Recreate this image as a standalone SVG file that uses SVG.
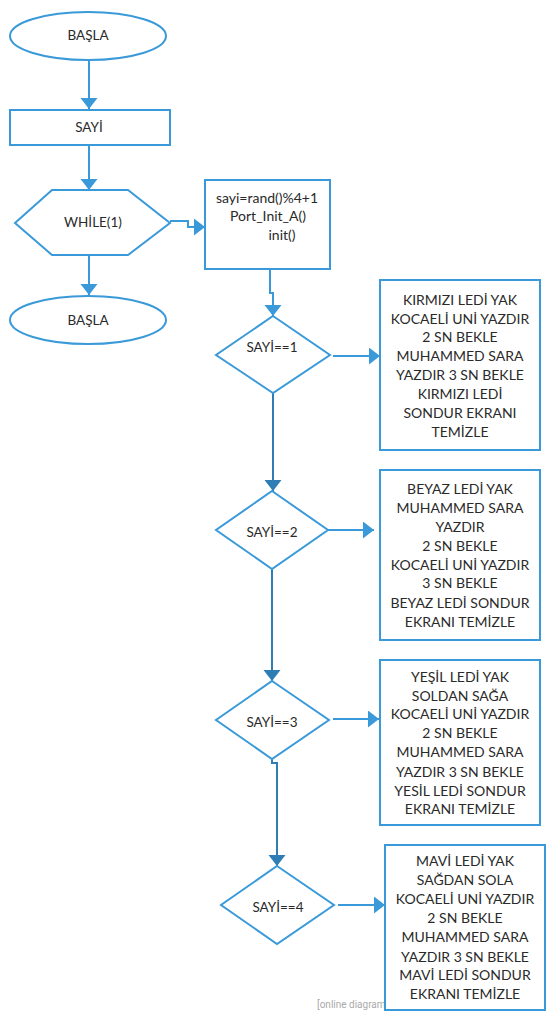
<svg xmlns="http://www.w3.org/2000/svg" width="555" height="1020" viewBox="0 0 555 1020">
<style>
.s{fill:#fff;stroke:#3a9ad9;stroke-width:2}
.t{font-family:Lato,"Liberation Sans",sans-serif;font-size:13.5px;fill:#2a2a2a;text-anchor:middle}
.b{font-size:14px}
.c{fill:none;stroke:#3a9ad9;stroke-width:2}
.d{fill:none;stroke:#2f7db5;stroke-width:2}
.w{font-family:Roboto,"Liberation Sans",sans-serif;font-size:10px;fill:#aaa}
</style>
<defs>
<marker id="a" markerUnits="userSpaceOnUse" markerWidth="12" markerHeight="18" refX="11" refY="8.5" orient="auto"><path d="M0,0 L11,8.5 L0,17 z" fill="#3a9ad9"/></marker>
<marker id="b" markerUnits="userSpaceOnUse" markerWidth="12" markerHeight="18" refX="11" refY="8.5" orient="auto"><path d="M0,0 L11,8.5 L0,17 z" fill="#2f7db5"/></marker>
</defs>
<text class="w" x="317" y="1008">[online diagram</text>
<g id="connectors">
<path class="c" d="M89,60 V109" marker-end="url(#a)"/>
<path class="c" d="M89,145 V190" marker-end="url(#a)"/>
<path class="c" d="M89,255 V295" marker-end="url(#a)"/>
<path class="c" d="M170,221 H188 V227 H205" marker-end="url(#a)"/>
<path class="c" d="M270,269 V293 H273 V316" marker-end="url(#a)"/>
<path class="c" d="M333,356 H380" marker-end="url(#a)"/>
<path class="d" d="M273,393 V491" marker-end="url(#b)"/>
<path class="c" d="M328,530 H374" marker-end="url(#a)"/>
<path class="d" d="M272,569 V681" marker-end="url(#b)"/>
<path class="c" d="M333,719 H379" marker-end="url(#a)"/>
<path class="d" d="M272,759 V763 H277 V866" marker-end="url(#b)"/>
<path class="c" d="M338,905 H385" marker-end="url(#a)"/>
</g>
<g id="start"><ellipse class="s" cx="88" cy="36" rx="78" ry="24"/><text class="t" x="88" y="40">BAŞLA</text></g>
<g id="sayi"><rect class="s" x="10" y="110" width="160" height="35"/><text class="t" x="89" y="132">SAYİ</text></g>
<g id="while"><polygon class="s" points="15,223 52,190 128,190 170,223 128,255 52,255"/><text class="t" x="93" y="227">WHİLE(1)</text></g>
<g id="end"><ellipse class="s" cx="88" cy="320" rx="78" ry="24"/><text class="t" x="88" y="325">BAŞLA</text></g>
<g id="init"><rect class="s" x="205" y="180" width="125" height="89"/>
<text class="t b" x="267" y="203">sayi=rand()%4+1</text>
<text class="t b" x="268" y="221">Port_Init_A()</text>
<text class="t b" x="282" y="240">init()</text></g>
<g id="d1"><polygon class="s" points="273,316 330,355 273,393 216,355"/><text class="t" x="272" y="352">SAYİ==1</text></g>
<g id="d2"><polygon class="s" points="272,491 328,530 272,569 216,530"/><text class="t" x="272" y="537">SAYİ==2</text></g>
<g id="d3"><polygon class="s" points="272,681 329,720 272,759 216,720"/><text class="t" x="272" y="727">SAYİ==3</text></g>
<g id="d4"><polygon class="s" points="277,866 334,905 277,944 221,905"/><text class="t" x="278" y="912">SAYİ==4</text></g>
<g id="b1"><rect class="s" x="380" y="280" width="160" height="170"/>
<text class="t b" x="460" y="305">KIRMIZI LEDİ YAK</text>
<text class="t b" x="460" y="324">KOCAELİ UNİ YAZDIR</text>
<text class="t b" x="460" y="342">2 SN BEKLE</text>
<text class="t b" x="460" y="361">MUHAMMED SARA</text>
<text class="t b" x="460" y="380">YAZDIR 3 SN BEKLE</text>
<text class="t b" x="460" y="399">KIRMIZI LEDİ</text>
<text class="t b" x="460" y="418">SONDUR EKRANI</text>
<text class="t b" x="460" y="437">TEMİZLE</text></g>
<g id="b2"><rect class="s" x="380" y="470" width="160" height="170"/>
<text class="t b" x="460" y="494">BEYAZ LEDİ YAK</text>
<text class="t b" x="460" y="513">MUHAMMED SARA</text>
<text class="t b" x="460" y="532">YAZDIR</text>
<text class="t b" x="460" y="551">2 SN BEKLE</text>
<text class="t b" x="460" y="570">KOCAELİ UNİ YAZDIR</text>
<text class="t b" x="460" y="588">3 SN BEKLE</text>
<text class="t b" x="460" y="608">BEYAZ LEDİ SONDUR</text>
<text class="t b" x="460" y="627">EKRANI TEMİZLE</text></g>
<g id="b3"><rect class="s" x="380" y="660" width="160" height="165"/>
<text class="t b" x="460" y="682">YEŞİL LEDİ YAK</text>
<text class="t b" x="460" y="701">SOLDAN SAĞA</text>
<text class="t b" x="460" y="719">KOCAELİ UNİ YAZDIR</text>
<text class="t b" x="460" y="738">2 SN BEKLE</text>
<text class="t b" x="460" y="757">MUHAMMED SARA</text>
<text class="t b" x="460" y="777">YAZDIR 3 SN BEKLE</text>
<text class="t b" x="460" y="796">YESİL LEDİ SONDUR</text>
<text class="t b" x="460" y="814">EKRANI TEMİZLE</text></g>
<g id="b4"><rect class="s" x="385" y="845" width="160" height="165"/>
<text class="t b" x="465" y="866">MAVİ LEDİ YAK</text>
<text class="t b" x="465" y="885">SAĞDAN SOLA</text>
<text class="t b" x="465" y="904">KOCAELİ UNİ YAZDIR</text>
<text class="t b" x="465" y="923">2 SN BEKLE</text>
<text class="t b" x="465" y="942">MUHAMMED SARA</text>
<text class="t b" x="465" y="962">YAZDIR 3 SN BEKLE</text>
<text class="t b" x="465" y="980">MAVİ LEDİ SONDUR</text>
<text class="t b" x="465" y="999">EKRANI TEMİZLE</text></g>
</svg>
